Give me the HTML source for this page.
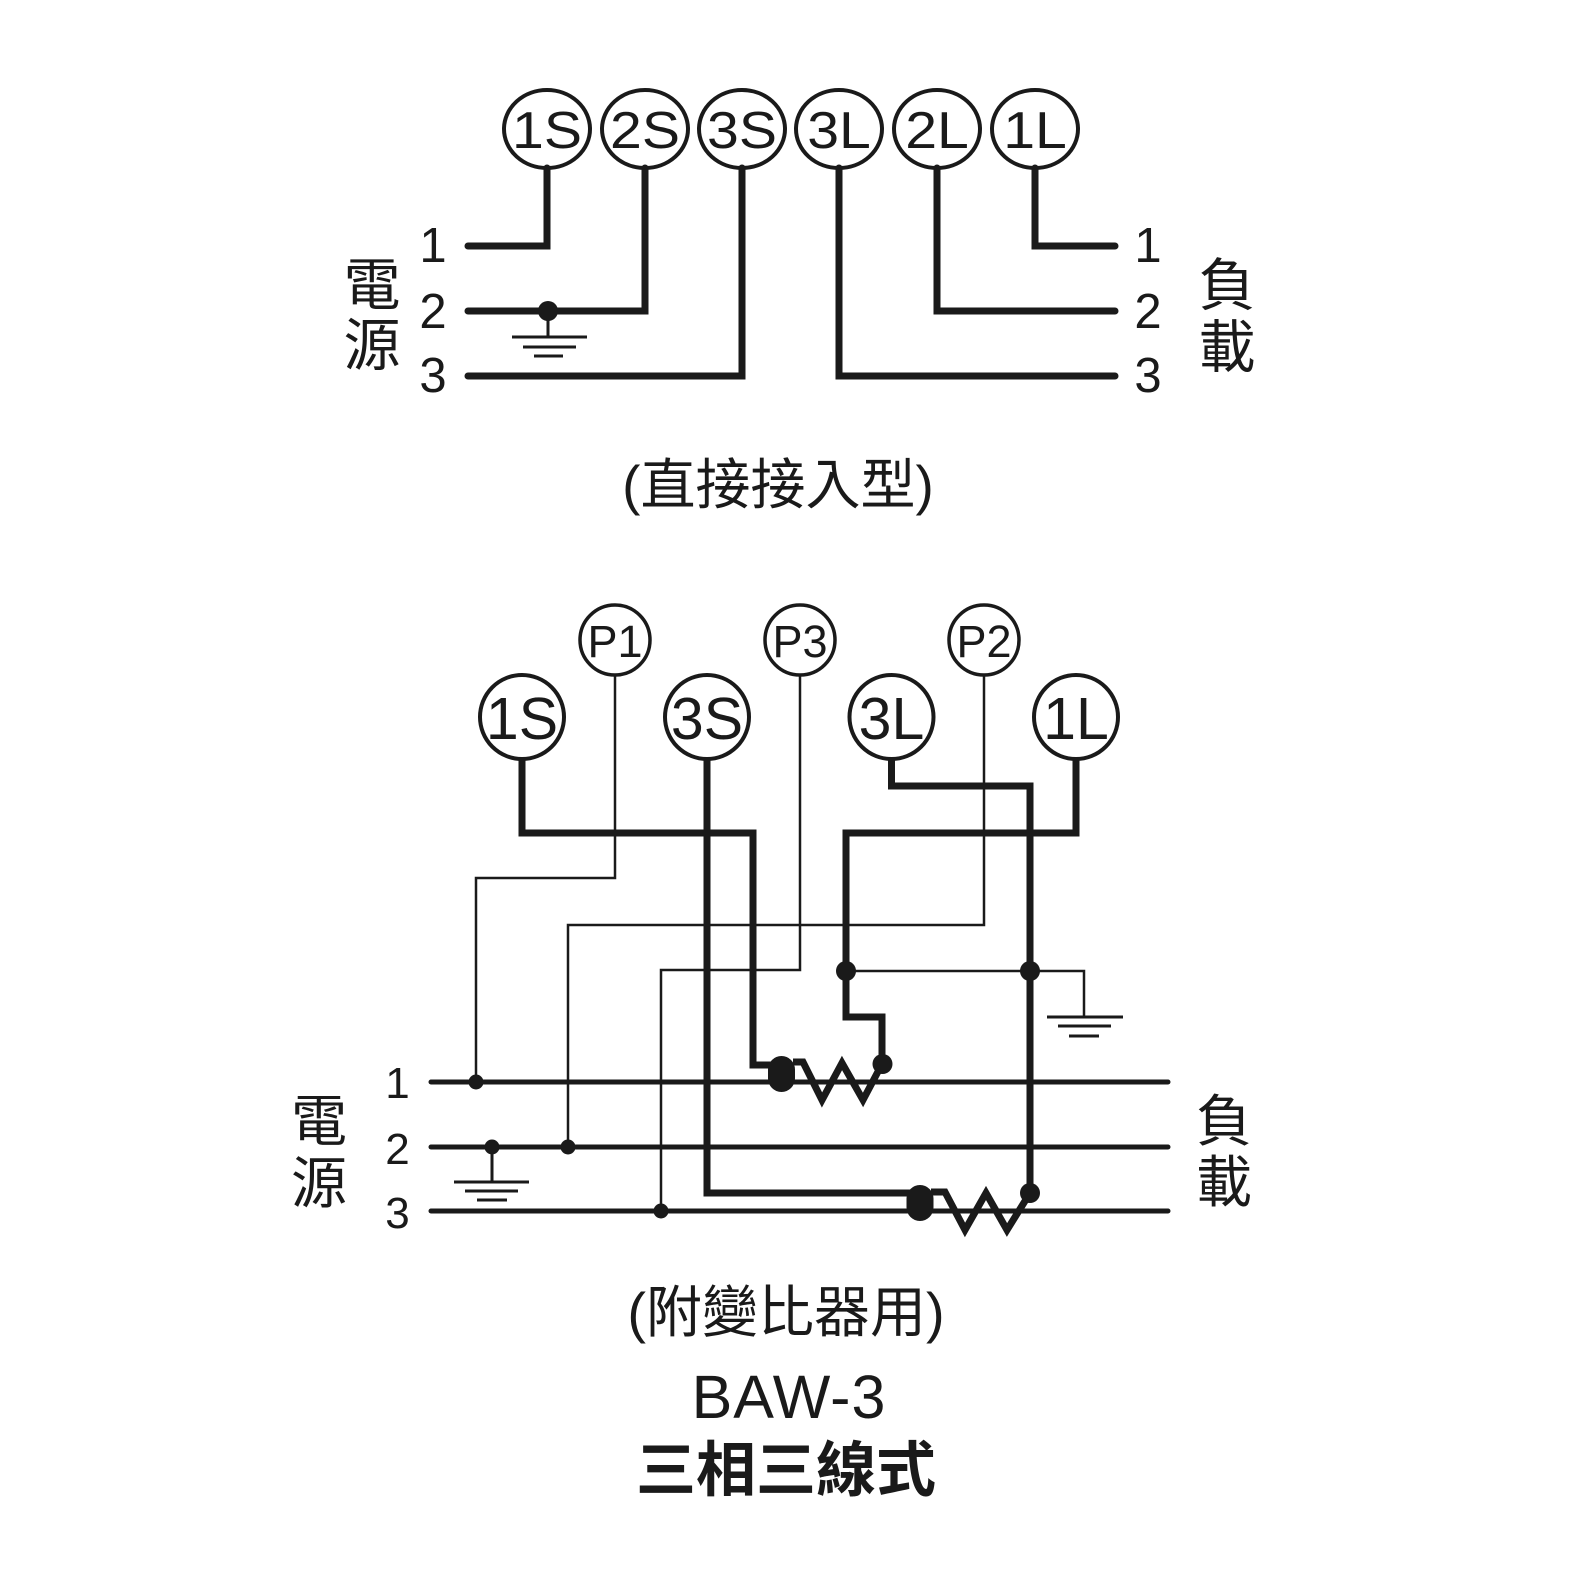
<!DOCTYPE html>
<html>
<head>
<meta charset="utf-8">
<style>
html,body{margin:0;padding:0;background:#fff;}
svg{display:block;}
text{font-family:"Liberation Sans","Noto Sans CJK TC","Noto Sans CJK SC",sans-serif;fill:#1a1a1a;}
</style>
</head>
<body>
<svg width="1590" height="1590" viewBox="0 0 1590 1590" xmlns="http://www.w3.org/2000/svg">
<rect width="1590" height="1590" fill="#fff"/>

<!-- ================= TOP SECTION ================= -->
<g fill="none" stroke="#1a1a1a" stroke-width="4">
  <ellipse cx="547" cy="129" rx="43" ry="39"/>
  <ellipse cx="645" cy="129" rx="43" ry="39"/>
  <ellipse cx="742" cy="129" rx="43" ry="39"/>
  <ellipse cx="839" cy="129" rx="43" ry="39"/>
  <ellipse cx="937" cy="129" rx="43" ry="39"/>
  <ellipse cx="1035" cy="129" rx="43" ry="39"/>
</g>
<g font-size="52" text-anchor="middle">
  <text transform="translate(547,148) scale(1.1,1)">1S</text>
  <text transform="translate(645,148) scale(1.1,1)">2S</text>
  <text transform="translate(742,148) scale(1.1,1)">3S</text>
  <text transform="translate(839,148) scale(1.1,1)">3L</text>
  <text transform="translate(937,148) scale(1.1,1)">2L</text>
  <text transform="translate(1035,148) scale(1.1,1)">1L</text>
</g>
<g fill="none" stroke="#1a1a1a" stroke-width="7" stroke-linecap="round" stroke-linejoin="miter">
  <path d="M547 168 V246 H468"/>
  <path d="M645 168 V311 H468"/>
  <path d="M742 168 V376 H468"/>
  <path d="M839 168 V376 H1115"/>
  <path d="M937 168 V311 H1115"/>
  <path d="M1035 168 V246 H1115"/>
</g>
<circle cx="548" cy="311" r="10" fill="#1a1a1a"/>
<g stroke="#1a1a1a" stroke-width="3" fill="none">
  <path d="M548 311 V337"/>
  <path d="M512 337 H587"/>
  <path d="M523 347 H576"/>
  <path d="M534 356 H563"/>
</g>
<g font-size="49" text-anchor="middle">
  <text x="433" y="262">1</text>
  <text x="433" y="328">2</text>
  <text x="433" y="392">3</text>
  <text x="1148" y="262">1</text>
  <text x="1148" y="328">2</text>
  <text x="1148" y="392">3</text>
</g>
<g font-size="57" text-anchor="middle">
  <text x="372" y="305">電</text>
  <text x="372" y="365">源</text>
  <text x="1227" y="305">負</text>
  <text x="1227" y="367">載</text>
</g>
<text x="778" y="504" font-size="55" text-anchor="middle">(直接接入型)</text>

<!-- ================= BOTTOM SECTION ================= -->
<g stroke="#1a1a1a" stroke-width="5" stroke-linecap="round" fill="none">
  <path d="M431 1082 H1168"/>
  <path d="M431 1147 H1168"/>
  <path d="M431 1211 H1168"/>
</g>

<g stroke="#1a1a1a" stroke-width="2.5" fill="none">
  <path d="M615 675 V878 H476 V1082"/>
  <path d="M984 675 V925 H568 V1147"/>
  <path d="M800 675 V970 H661 V1211"/>
  <path d="M846 971 H1084 V1017"/>
</g>
<g stroke="#1a1a1a" stroke-width="3" fill="none">
  <path d="M1047 1017 H1123"/>
  <path d="M1058 1026 H1111"/>
  <path d="M1069 1036 H1099"/>
  <path d="M492 1147 V1182"/>
  <path d="M454 1182 H529"/>
  <path d="M465 1191 H518"/>
  <path d="M477 1200 H507"/>
</g>

<g fill="none" stroke="#1a1a1a" stroke-width="7" stroke-linejoin="miter">
  <path d="M522 758 V833 H753 V1065 H777"/>
  <path d="M707 758 V1193 H912"/>
  <path d="M891.5 758 V786 H1030 V1193"/>
  <path d="M1076 758 V833 H846 V1017 H882 V1064"/>
</g>

<!-- CT1 -->
<rect x="768" y="1056" width="27" height="36" rx="13.5" fill="#1a1a1a"/>
<path d="M793 1062 H803 L822 1100 L842 1063 L863 1100 L882 1064" fill="none" stroke="#1a1a1a" stroke-width="7" stroke-linejoin="miter"/>
<circle cx="882.5" cy="1064" r="10" fill="#1a1a1a"/>
<!-- CT2 -->
<rect x="906.5" y="1185" width="27" height="36" rx="13.5" fill="#1a1a1a"/>
<path d="M931 1192 H945 L965 1230 L986 1193 L1007 1230 L1030 1193" fill="none" stroke="#1a1a1a" stroke-width="7" stroke-linejoin="miter"/>
<circle cx="1030" cy="1193" r="10" fill="#1a1a1a"/>

<g fill="#1a1a1a">
  <circle cx="846" cy="971" r="10"/>
  <circle cx="1030" cy="971" r="10"/>
  <circle cx="476" cy="1082" r="7.5"/>
  <circle cx="492" cy="1147" r="7.5"/>
  <circle cx="568" cy="1147" r="7.5"/>
  <circle cx="661" cy="1211" r="7.5"/>
</g>

<g fill="#fff" stroke="#1a1a1a" stroke-width="3.5">
  <circle cx="615" cy="640" r="35"/>
  <circle cx="800" cy="640" r="35"/>
  <circle cx="984" cy="640" r="35"/>
</g>
<g fill="#fff" stroke="#1a1a1a" stroke-width="4">
  <circle cx="522" cy="717" r="42"/>
  <circle cx="707" cy="717" r="42"/>
  <circle cx="891.5" cy="717" r="42"/>
  <circle cx="1076" cy="717" r="42"/>
</g>
<g font-size="45" text-anchor="middle">
  <text x="615" y="657">P1</text>
  <text x="800" y="657">P3</text>
  <text x="984" y="657">P2</text>
</g>
<g font-size="59" text-anchor="middle">
  <text x="522" y="739">1S</text>
  <text x="707" y="739">3S</text>
  <text x="891.5" y="739">3L</text>
  <text x="1076" y="739">1L</text>
</g>

<g font-size="44" text-anchor="middle">
  <text x="397.5" y="1098">1</text>
  <text x="397.5" y="1164">2</text>
  <text x="397.5" y="1228">3</text>
</g>
<g font-size="56" text-anchor="middle">
  <text x="319" y="1141">電</text>
  <text x="319" y="1203">源</text>
  <text x="1224" y="1141">負</text>
  <text x="1224" y="1202">載</text>
</g>

<text x="786" y="1332" font-size="56" text-anchor="middle">(附變比器用)</text>
<text x="789" y="1418" font-size="61" text-anchor="middle" letter-spacing="1">BAW-3</text>
<text x="786" y="1491" font-size="60" font-weight="bold" text-anchor="middle">三相三線式</text>
</svg>
</body>
</html>
